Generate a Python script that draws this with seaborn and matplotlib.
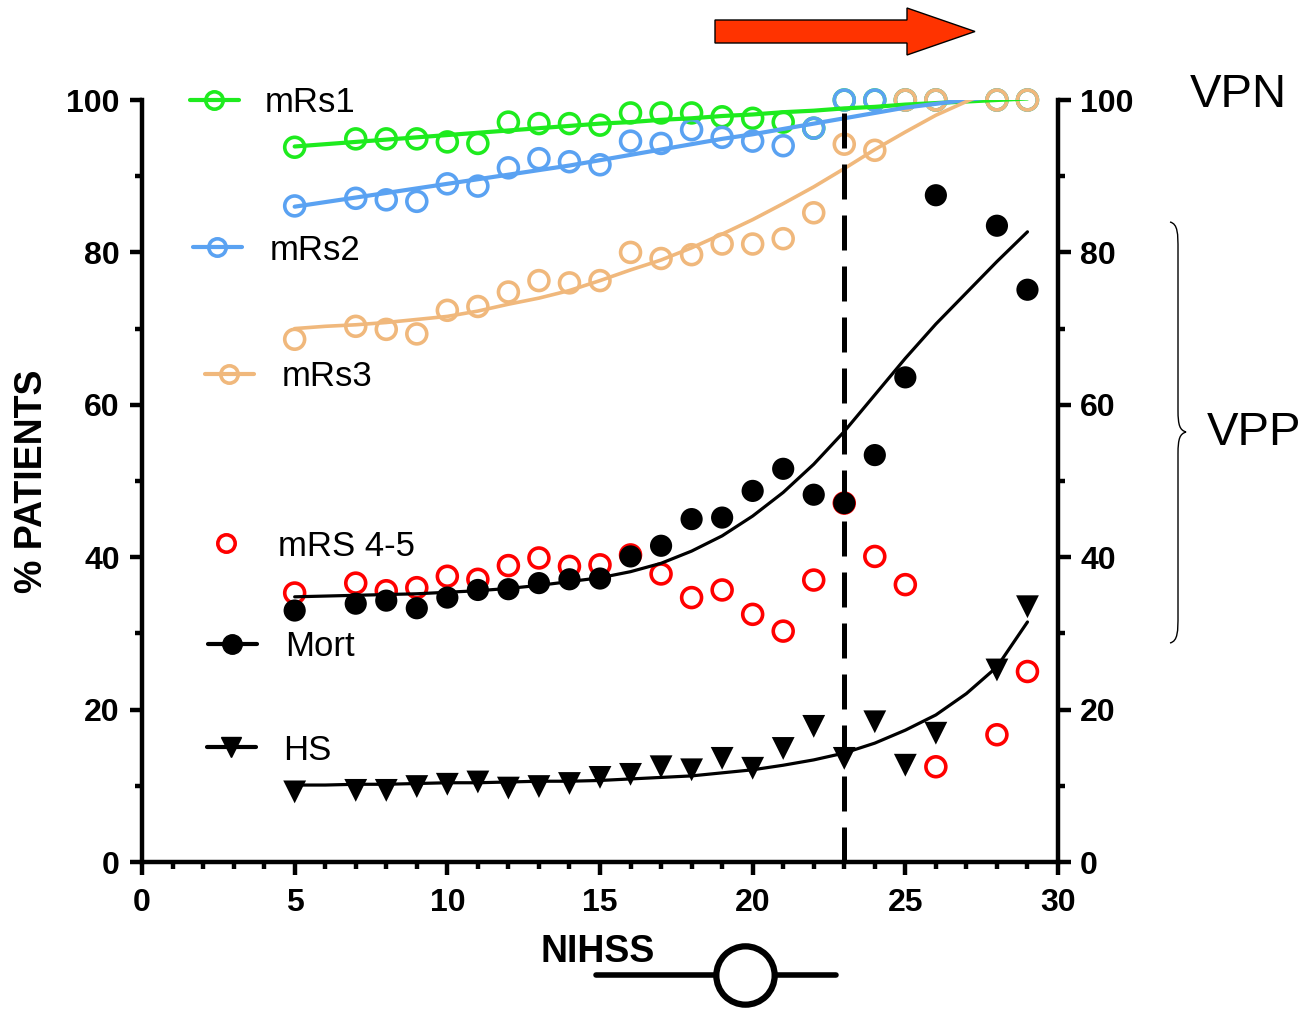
import numpy as np
import pandas as pd
import matplotlib
matplotlib.use("Agg")
import matplotlib.pyplot as plt
import seaborn as sns
from matplotlib.lines import Line2D
from matplotlib.patches import FancyArrow, PathPatch
from matplotlib.path import Path

# ---------------- data ----------------
nihss = [5, 7, 8, 9, 10, 11, 12, 13, 14, 15, 16, 17, 18, 19, 20, 21, 22, 23, 24, 25, 26, 28, 29]

mrs1 = [93.8, 94.9, 94.9, 94.9, 94.5, 94.3, 97.1, 96.9, 96.9, 96.7, 98.3, 98.3, 98.3, 97.8, 97.6, 97.1,
        96.3, 100, 100, 100, 100, 100, 100]
mrs2 = [86.1, 87.1, 86.9, 86.7, 89.0, 88.7, 91.1, 92.3, 91.9, 91.5, 94.6, 94.3, 96.1, 95.1, 94.6, 94.0,
        96.3, 100, 100, 100, 100, 100, 100]
mrs3 = [68.6, 70.3, 69.9, 69.3, 72.4, 72.9, 74.8, 76.3, 76.0, 76.3, 80.0, 79.2, 79.7, 81.1, 81.1, 81.8,
        85.2, 94.2, 93.4, 100, 100, 100, 100]
mrs45 = [35.3, 36.6, 35.6, 36.0, 37.5, 37.1, 38.9, 39.9, 38.8, 39.0, 40.3, 37.8, 34.7, 35.7, 32.5, 30.3,
         37.0, 47.1, 40.1, 36.4, 12.5, 16.7, 25.0]
mort = [33.0, 33.9, 34.3, 33.3, 34.7, 35.7, 35.8, 36.6, 37.1, 37.2, 40.1, 41.5, 45.0, 45.2, 48.7, 51.6,
        48.2, 47.1, 53.4, 63.6, 87.5, 83.5, 75.1]
hs = [9.2, 9.4, 9.4, 9.9, 10.2, 10.5, 9.7, 9.9, 10.3, 11.1, 11.5, 12.5, 12.1, 13.6, 12.3, 14.9,
      17.8, 13.6, 18.4, 12.7, 16.9, 25.2, 33.5]

# fitted curves
fit_x = [5, 6, 7, 8, 9, 10, 11, 12, 13, 14, 15, 16, 17, 18, 19, 20, 21, 22, 23, 24, 25, 26, 27, 28, 29]
fit_mrs1 = [93.9, 94.2, 94.5, 94.8, 95.1, 95.4, 95.7, 96.0, 96.3, 96.6, 96.9, 97.1, 97.4, 97.6, 97.9,
            98.1, 98.4, 98.6, 98.9, 99.1, 99.4, 99.6, 99.8, 100.0, 100.2]
fit_mrs2 = [86.0, 86.6, 87.2, 87.8, 88.4, 89.0, 89.6, 90.2, 90.8, 91.4, 92.1, 92.8, 93.5, 94.2, 94.9,
            95.5, 96.2, 96.9, 97.6, 98.3, 99.0, 99.5, 100.0, 100.5, 101.0]
fit_mrs3 = [70.0, 70.3, 70.5, 70.8, 71.2, 71.6, 72.3, 73.2, 74.0, 75.0, 76.3, 77.7, 79.0, 80.6, 82.4,
            84.3, 86.4, 88.6, 91.0, 93.5, 95.8, 98.0, 99.8, 101.5, 103.0]
fit_mort = [34.8, 34.9, 35.0, 35.1, 35.2, 35.4, 35.6, 35.9, 36.3, 36.8, 37.3, 38.1, 39.2, 40.8, 42.8,
            45.4, 48.5, 52.2, 56.5, 61.3, 66.1, 70.6, 74.7, 78.8, 82.7]
fit_hs = [10.1, 10.1, 10.2, 10.2, 10.3, 10.4, 10.4, 10.5, 10.6, 10.6, 10.7, 10.9, 11.1, 11.3, 11.7,
          12.1, 12.7, 13.4, 14.3, 15.6, 17.3, 19.3, 22.1, 25.6, 31.5]

cutoff = 23
y_ticks = [0, 20, 40, 60, 80, 100]
x_ticks = [0, 5, 10, 15, 20, 25, 30]

GREEN = "#1EEB1E"
BLUE = "#5AA2F2"
ORANGE = "#F0B87C"
RED = "#FF0000"
BLACK = "#000000"

# ---------------- style ----------------
sns.set_style("ticks")
plt.rcParams["font.family"] = ["Liberation Sans", "DejaVu Sans"]
plt.rcParams["text.color"] = BLACK
plt.rcParams["axes.labelcolor"] = BLACK
plt.rcParams["xtick.color"] = BLACK
plt.rcParams["ytick.color"] = BLACK
plt.rcParams["xtick.labelcolor"] = BLACK
plt.rcParams["ytick.labelcolor"] = BLACK
plt.rcParams["legend.labelcolor"] = BLACK

W, H = 1307, 1009
fig = plt.figure(figsize=(W / 100, H / 100), dpi=100)
ax = fig.add_axes([142 / W, 1 - 862 / H, (1058 - 142) / W, (862 - 100) / H])

df = pd.DataFrame({"x": nihss, "mrs1": mrs1, "mrs2": mrs2, "mrs3": mrs3,
                   "mrs45": mrs45, "mort": mort, "hs": hs})
fdf = pd.DataFrame({"x": fit_x, "mrs1": fit_mrs1, "mrs2": fit_mrs2, "mrs3": fit_mrs3,
                    "mort": fit_mort, "hs": fit_hs})

open_kw = dict(s=205, linewidth=2.6, legend=False, clip_on=False)

# open circle series
for col, c, z in [("mrs1", GREEN, 3), ("mrs2", BLUE, 4), ("mrs3", ORANGE, 5)]:
    sns.scatterplot(data=df, x="x", y=col, ax=ax, marker="o", color=c, facecolor="none",
                    edgecolor=c, zorder=z, **open_kw)
sns.scatterplot(data=df, x="x", y="mrs45", ax=ax, marker="o", color=RED, facecolor="none",
                edgecolor=RED, zorder=6, **open_kw)
sns.scatterplot(data=df, x="x", y="mort", ax=ax, marker="o", color=BLACK, s=255,
                edgecolor="none", linewidth=0, zorder=7, legend=False, clip_on=False)
sns.scatterplot(data=df, x="x", y="hs", ax=ax, marker="v", color=BLACK, s=270,
                edgecolor="none", linewidth=0, zorder=7, legend=False, clip_on=False)

# fitted curves
for col, c, lw, z in [("mrs1", GREEN, 3.0, 6.5), ("mrs2", BLUE, 3.0, 6.6), ("mrs3", ORANGE, 2.6, 6.7),
                      ("mort", BLACK, 2.3, 8), ("hs", BLACK, 2.3, 8)]:
    sns.lineplot(data=fdf, x="x", y=col, ax=ax, color=c, linewidth=lw, zorder=z, legend=False)

# cutoff line
ax.axvline(cutoff, color=BLACK, linewidth=3.6, dashes=(7, 3.2), zorder=10)

# axes
ax.set_xlim(0, 30)
ax.set_ylim(0, 100)
ax.set_xticks(x_ticks)
ax.set_xticks(range(0, 31), minor=True)
ax.set_yticks(y_ticks)
ax.set_yticks(range(10, 100, 20), minor=True)
ax.set_xlabel("")
ax.set_ylabel("")
ax.spines["top"].set_visible(False)
for s in ["left", "bottom", "right"]:
    ax.spines[s].set_linewidth(3.2)
    ax.spines[s].set_color(BLACK)
ax.tick_params(axis="both", which="major", length=9, width=3.2, color=BLACK,
               labelsize=23, labelcolor=BLACK)
ax.tick_params(axis="both", which="minor", length=5, width=3.2, color=BLACK)
ax.tick_params(axis="y", which="both", right=True, labelright=True, left=True, labelleft=True)
ax.tick_params(axis="y", which="major", pad=7)
ax.tick_params(axis="x", which="major", pad=10)
for lab in ax.get_xticklabels() + ax.get_yticklabels():
    lab.set_fontweight("bold")
for t in ax.yaxis.get_major_ticks():
    t.label1.set_fontweight("bold")
    t.label2.set_fontweight("bold")
    t.label2.set_fontsize(23)
    t.label2.set_color(BLACK)

# axis titles
fig.text(598 / W, 1 - 952 / H, "NIHSS", ha="center", va="center", fontsize=27,
         fontweight="bold", color=BLACK)
fig.text(32 / W, 1 - 481 / H, "% PATIENTS", ha="center", va="center", rotation=90,
         fontsize=27, fontweight="bold", color=BLACK)

# separate legend entries
def entry(handle, label, xpx, ypx, gap):
    leg = fig.legend(handles=[handle], labels=[label], loc="center left",
                     bbox_to_anchor=(xpx / W, 1 - ypx / H), frameon=False,
                     borderpad=0, borderaxespad=0, handlelength=1.4,
                     handletextpad=gap, fontsize=25, labelcolor=BLACK)
    return leg

def circ_handle(c):
    return Line2D([], [], color=c, lw=3, marker="o", markersize=12.5, markerfacecolor="none",
                  markeredgecolor=c, markeredgewidth=2.6)

entry(circ_handle(GREEN), "mRs1", 190, 103, 0.75)
entry(circ_handle(BLUE), "mRs2", 193, 250, 0.8)
entry(circ_handle(ORANGE), "mRs3", 205, 377, 0.8)
entry(Line2D([], [], lw=0, marker="o", markersize=12.5, markerfacecolor="none",
             markeredgecolor=RED, markeredgewidth=2.6), "mRS 4-5", 202, 546, 0.78)
entry(Line2D([], [], color=BLACK, lw=3, marker="o", markersize=14), "Mort", 208, 647, 0.82)
entry(Line2D([], [], color=BLACK, lw=3, marker="v", markersize=15), "HS", 207, 750, 0.78)

# right side annotations
fig.text(1190 / W, 1 - 95 / H, "VPN", ha="left", va="center", fontsize=34, color=BLACK)
fig.text(1207 / W, 1 - 433 / H, "VPP", ha="left", va="center", fontsize=34, color=BLACK)

# curly brace
pts = [(1170, 222), (1178, 224), (1178, 234), (1178, 250),
       (1178, 410), (1178, 426), (1180, 430), (1186, 432),
       (1180, 434), (1178, 438), (1178, 454),
       (1178, 615), (1178, 631), (1178, 641), (1170, 643)]
verts = [(x / W, 1 - y / H) for x, y in pts]
codes = [Path.MOVETO, Path.CURVE4, Path.CURVE4, Path.CURVE4,
         Path.LINETO, Path.CURVE4, Path.CURVE4, Path.CURVE4,
         Path.CURVE4, Path.CURVE4, Path.CURVE4,
         Path.LINETO, Path.CURVE4, Path.CURVE4, Path.CURVE4]
fig.add_artist(PathPatch(Path(verts, codes), transform=fig.transFigure, fill=False,
                         edgecolor=BLACK, linewidth=1.0))

# red arrow at top
fig.add_artist(FancyArrow(715 / W, 1 - 31.5 / H, 260 / W, 0, width=23 / H,
                          head_width=47 / H, head_length=68 / W, length_includes_head=True,
                          transform=fig.transFigure, facecolor="#FF3300", edgecolor=BLACK,
                          linewidth=1.0))

# bottom symbol: line with open circle
fig.add_artist(Line2D([596 / W, 836 / W], [1 - 975 / H, 1 - 975 / H], transform=fig.transFigure,
                      color=BLACK, linewidth=4))
fig.add_artist(Line2D([745 / W], [1 - 975 / H], transform=fig.transFigure, lw=0,
                      marker="o", markersize=42, markerfacecolor="white",
                      markeredgecolor=BLACK, markeredgewidth=4.5))

fig.savefig("out.png", dpi=100)
